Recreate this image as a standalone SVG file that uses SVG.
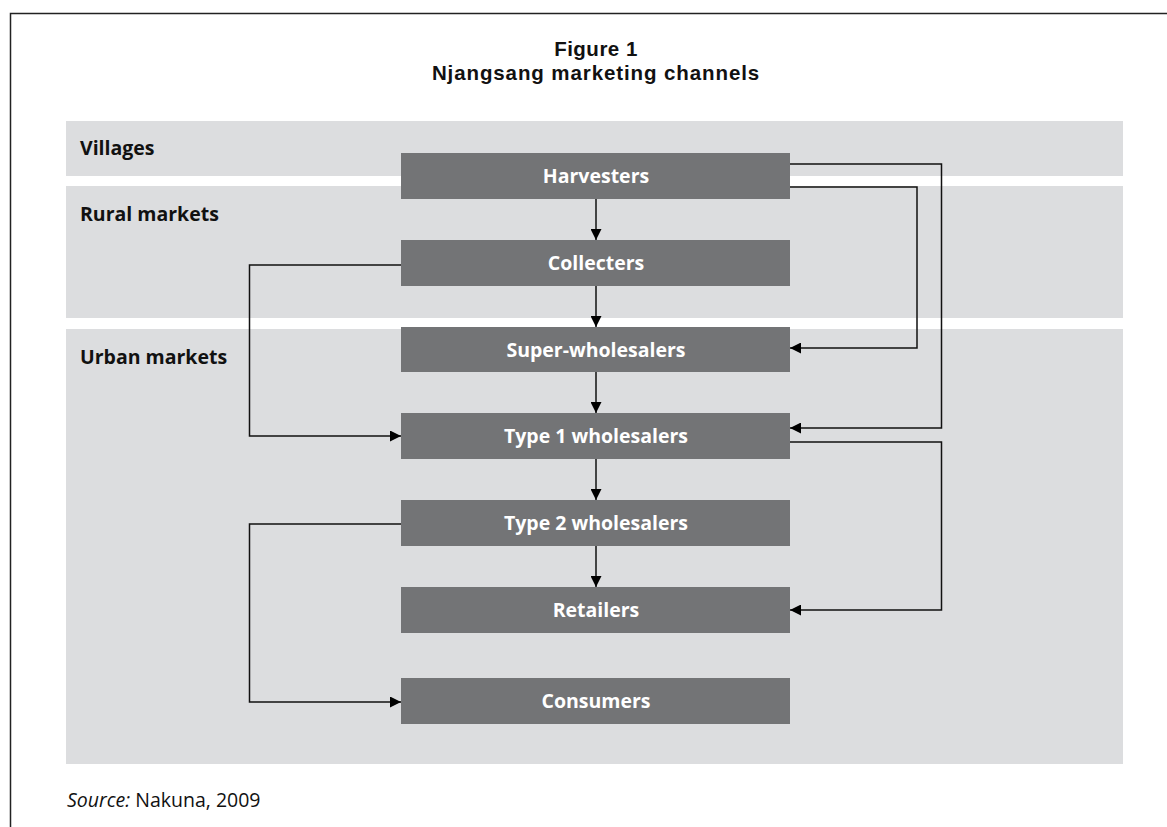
<svg xmlns="http://www.w3.org/2000/svg" width="1167" height="827" viewBox="0 0 1167 827">
<style>
.band{fill:#dcdddf}
.bandlbl{font-family:"Open Sans","Liberation Sans",sans-serif;font-weight:bold;font-size:19.5px;fill:#111}
.box{fill:#737476}
.lbl{font-family:"Open Sans","Liberation Sans",sans-serif;font-weight:bold;font-size:19.5px;fill:#fff;text-anchor:middle}
.title{font-family:"Liberation Sans",Arial,sans-serif;font-weight:bold;font-size:20.5px;fill:#111;text-anchor:middle}
.src{font-family:"Open Sans","Liberation Sans",sans-serif;font-size:19.5px;fill:#111}
.conn{fill:none;stroke:#111;stroke-width:1.5}
</style>
<defs>
<marker id="arr" viewBox="0 0 10 10" refX="10" refY="5" markerWidth="11" markerHeight="11" markerUnits="userSpaceOnUse" orient="auto">
<path d="M0,0 L10,5 L0,10 Z" fill="#000"/>
</marker>
</defs>
<rect x="0" y="0" width="1167" height="827" fill="#fff"/>
<path d="M10.5,827 V13.5 H1167" fill="none" stroke="#222" stroke-width="1.5"/>
<g id="title">
<text class="title" x="596" y="56" letter-spacing="0.5">Figure 1</text>
<text class="title" x="596" y="80" letter-spacing="0.9">Njangsang marketing channels</text>
</g>
<g id="band-villages">
<rect class="band" x="66" y="121" width="1057" height="55"/>
<text class="bandlbl" x="80" y="155">Villages</text>
</g>
<g id="band-rural">
<rect class="band" x="66" y="186" width="1057" height="132"/>
<text class="bandlbl" x="80" y="221">Rural markets</text>
</g>
<g id="band-urban">
<rect class="band" x="66" y="329" width="1057" height="435"/>
<text class="bandlbl" x="80" y="364">Urban markets</text>
</g>
<g id="connectors">
<path class="conn" d="M596,199 V240" marker-end="url(#arr)"/>
<path class="conn" d="M596,286 V327" marker-end="url(#arr)"/>
<path class="conn" d="M596,372 V413" marker-end="url(#arr)"/>
<path class="conn" d="M596,459 V500" marker-end="url(#arr)"/>
<path class="conn" d="M596,546 V587" marker-end="url(#arr)"/>
<path class="conn" d="M790,164 H941.5 V428 H790" marker-end="url(#arr)"/>
<path class="conn" d="M790,187 H917 V348 H790" marker-end="url(#arr)"/>
<path class="conn" d="M401,265 H249.5 V436 H401" marker-end="url(#arr)"/>
<path class="conn" d="M790,442 H941.5 V610 H790" marker-end="url(#arr)"/>
<path class="conn" d="M401,524 H249.5 V702 H401" marker-end="url(#arr)"/>
</g>
<g id="harvesters"><rect class="box" x="401" y="153" width="389" height="46"/><text class="lbl" x="596" y="183">Harvesters</text></g>
<g id="collecters"><rect class="box" x="401" y="240" width="389" height="46"/><text class="lbl" x="596" y="270">Collecters</text></g>
<g id="super-wholesalers"><rect class="box" x="401" y="327" width="389" height="45"/><text class="lbl" x="596" y="357">Super-wholesalers</text></g>
<g id="type1"><rect class="box" x="401" y="413" width="389" height="46"/><text class="lbl" x="596" y="443">Type 1 wholesalers</text></g>
<g id="type2"><rect class="box" x="401" y="500" width="389" height="46"/><text class="lbl" x="596" y="530">Type 2 wholesalers</text></g>
<g id="retailers"><rect class="box" x="401" y="587" width="389" height="46"/><text class="lbl" x="596" y="617">Retailers</text></g>
<g id="consumers"><rect class="box" x="401" y="678" width="389" height="46"/><text class="lbl" x="596" y="708">Consumers</text></g>
<g id="source">
<text class="src" x="67" y="807"><tspan font-style="italic">Source:</tspan> Nakuna, 2009</text>
</g>
</svg>
